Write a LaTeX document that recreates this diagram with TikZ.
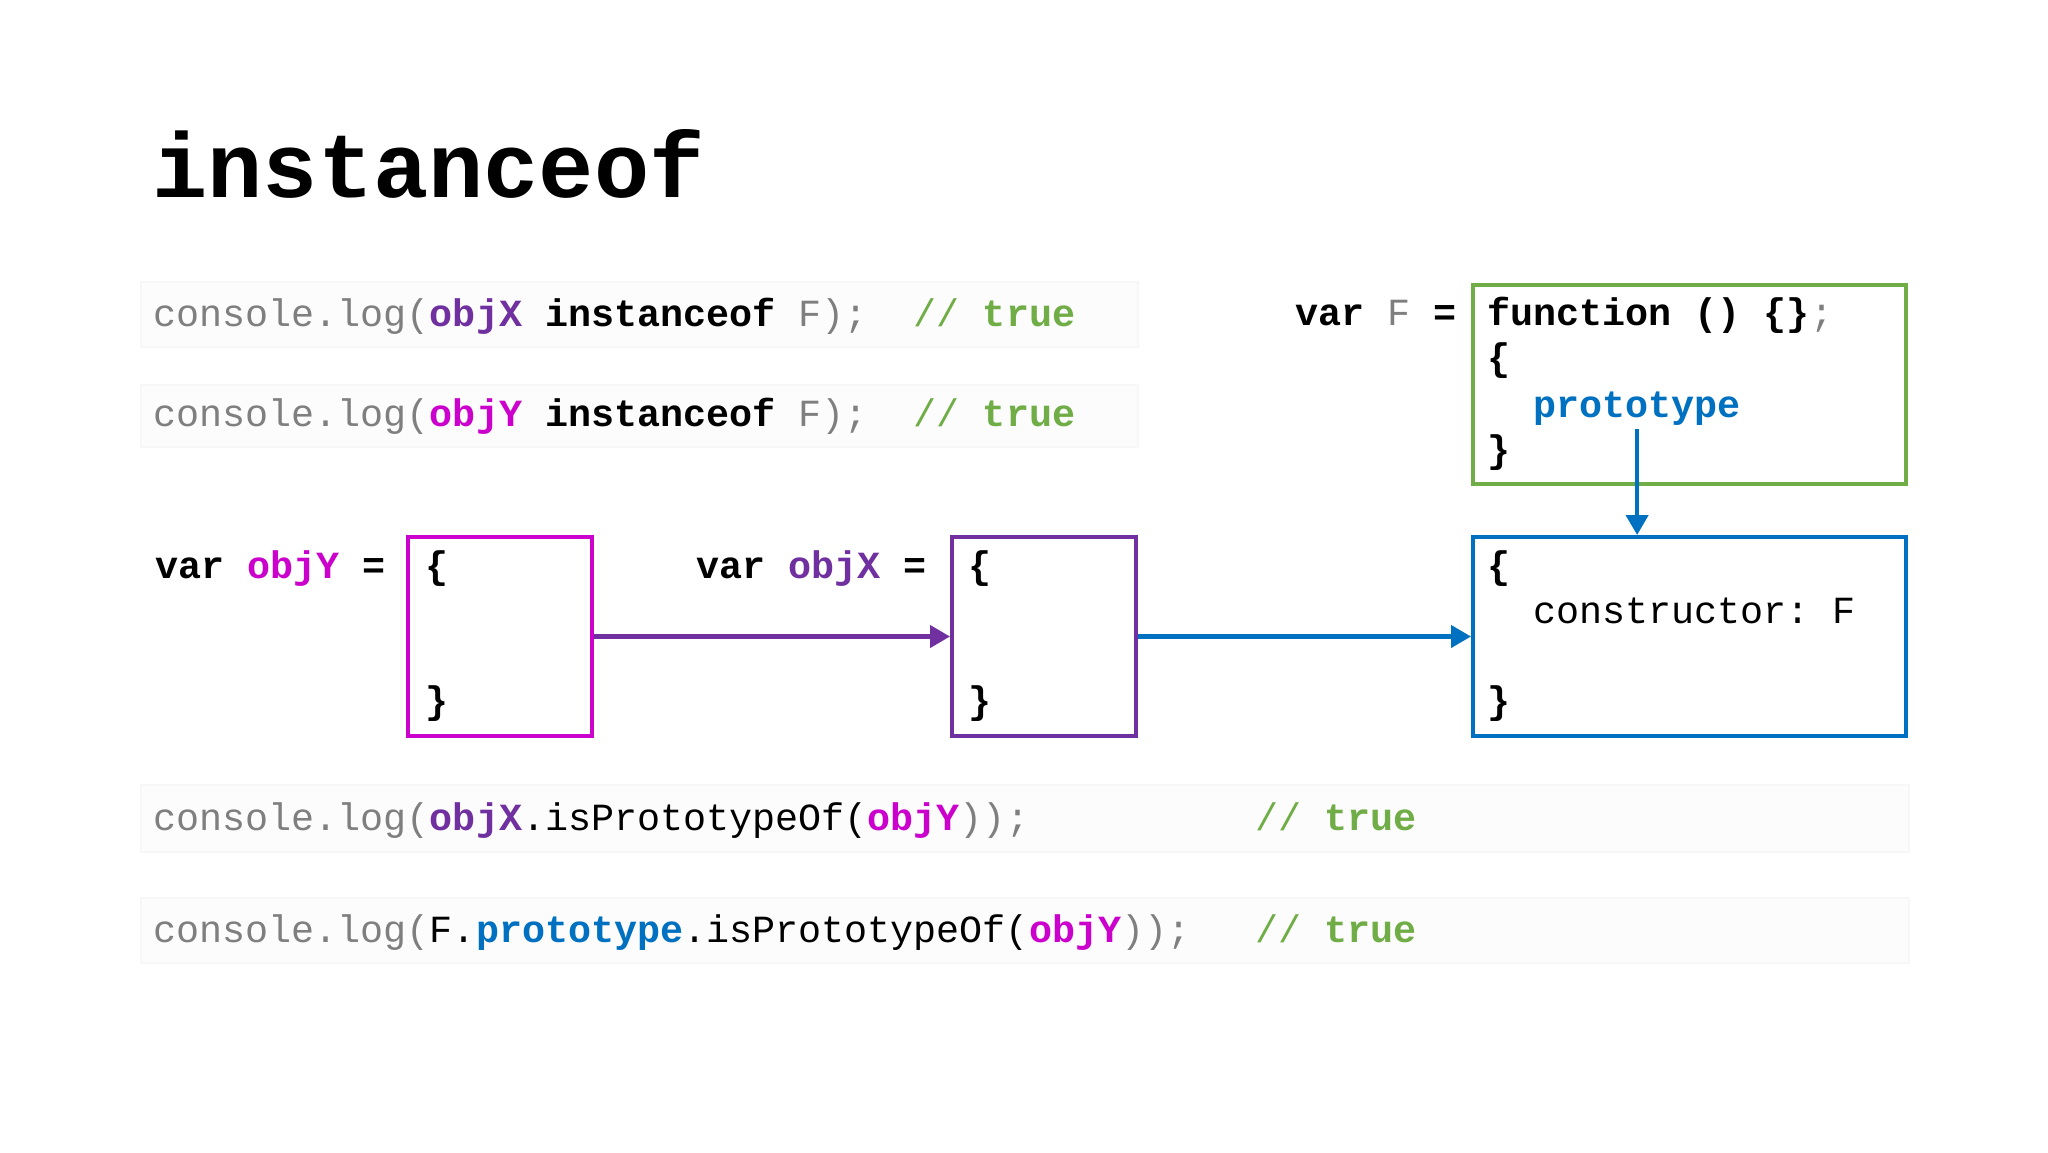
\documentclass[tikz,border=0pt]{standalone}
\usepackage{fontspec}
\setmonofont{Liberation Mono}
\newfontfamily\codefont{Liberation Mono}
\usetikzlibrary{arrows.meta}
\definecolor{cgray}{HTML}{7F7F7F}
\definecolor{cobjx}{HTML}{7030A0}
\definecolor{cobjy}{HTML}{CC00CC}
\definecolor{cblue}{HTML}{0070C0}
\definecolor{cgreen}{HTML}{70AD47}
\definecolor{cbg}{HTML}{FCFCFC}
\newcommand{\Gy}[1]{\textcolor{cgray}{#1}}
\newcommand{\Ox}[1]{\textcolor{cobjx}{\bfseries #1}}
\newcommand{\Oy}[1]{\textcolor{cobjy}{\bfseries #1}}
\newcommand{\Bl}[1]{\textcolor{cblue}{\bfseries #1}}
\newcommand{\Cm}{\textcolor{cgreen}{//~\bfseries true}}
\begin{document}
\begin{tikzpicture}[x=0.5pt,y=-0.5pt,
  code/.style={font={\codefont\fontsize{19.2pt}{23pt}\selectfont}, anchor=base west, inner sep=0pt},
  bgbar/.style={fill=cbg, draw=black!3, line width=1pt},
  objbox/.style={draw, line width=2pt, minimum height=99.5pt, inner sep=0pt},
  link/.style={line width=2.1pt, -{Triangle[length=10pt,width=11pt]}}]
\useasboundingbox (0,0) rectangle (2048,1152);
\fill[white] (0,0) rectangle (2048,1152);
% background bars
\draw[bgbar] (141,282) rectangle (1138,347);
\draw[bgbar] (141,385) rectangle (1138,447);
\draw[bgbar] (141,785) rectangle (1909,852);
\draw[bgbar] (141,898) rectangle (1909,963);
% title
\node[anchor=base west, inner sep=0pt, font={\codefont\fontsize{46pt}{50pt}\selectfont\bfseries}] (title) at (152,197) {instanceof};
% code lines
\node[code] (l1) at (153,326) {\Gy{console.log(}\Ox{objX}~\textbf{instanceof}~\Gy{F);}~~\Cm};
\node[code] (l2) at (153,426) {\Gy{console.log(}\Oy{objY}~\textbf{instanceof}~\Gy{F);}~~\Cm};
\node[code] (l3) at (153,830) {\Gy{console.log(}\Ox{objX}.isPrototypeOf(\Oy{objY}\Gy{));}};
\node[code] (c3) at (1255,830) {\Cm};
\node[code] (l4) at (153,942) {\Gy{console.log(}F.\Bl{prototype}.isPrototypeOf(\Oy{objY}\Gy{));}};
\node[code] (c4) at (1255,942) {\Cm};
% function F
\node[code] (varF) at (1295,325) {\textbf{var}~\Gy{F}~\textbf{=}};
\node[objbox, draw=cgreen, minimum width=216.5pt] (boxF) at (1689.5,384.5) {};
\node[code] (fn) at (1487,325) {\textbf{function~()~\{\}}\Gy{;}};
\node[code] (fl) at (1487,370) {\textbf{\{}};
\node[code] (proto) at (1533,417) {\Bl{prototype}};
\node[code] (fr) at (1487,462) {\textbf{\}}};
% objY
\node[code] (varY) at (155,578) {\textbf{var}~\Oy{objY}~\textbf{=}};
\node[objbox, draw=cobjy, minimum width=92pt] (boxY) at (500,636.5) {};
\node[code] (yl) at (425,578) {\textbf{\{}};
\node[code] (yr) at (425,713) {\textbf{\}}};
% objX
\node[code] (varX) at (696,578) {\textbf{var}~\Ox{objX}~\textbf{=}};
\node[objbox, draw=cobjx, minimum width=92pt] (boxX) at (1044,636.5) {};
\node[code] (xl) at (968,578) {\textbf{\{}};
\node[code] (xr) at (968,713) {\textbf{\}}};
% prototype object
\node[objbox, draw=cblue, minimum width=216.5pt] (boxB) at (1689.5,636.5) {};
\node[code] (bl) at (1487,578) {\textbf{\{}};
\node[code] (ctor) at (1533,623) {constructor:~F};
\node[code] (br) at (1487,713) {\textbf{\}}};
% links
\draw[link, cobjx] (boxY.east) -- (boxX.west);
\draw[link, cblue] (boxX.east) -- (boxB.west);
\draw[link, cblue] ([yshift=-2pt]proto.south) -- (proto.south |- boxB.north);
\end{tikzpicture}
\end{document}
